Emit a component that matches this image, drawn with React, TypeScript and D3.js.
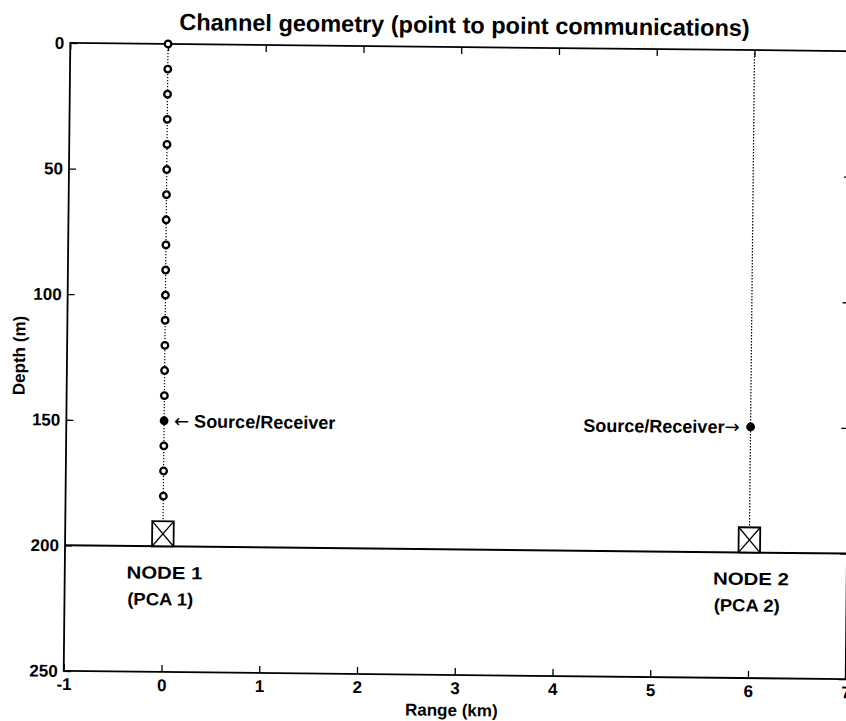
import React, { useEffect, useRef } from "react";
import * as d3 from "d3";

// range ticks (km) and depth ticks (m)
const rangeTicks = [-1, 0, 1, 2, 3, 4, 5, 6, 7];
const depthTicks = [0, 50, 100, 150, 200, 250];

// the two nodes
const nodeRanges = [0, 6];
const nodeNames = ["NODE 1", "NODE 2"];
const nodePcas = ["(PCA 1)", "(PCA 2)"];
const sourceDepths = [150, 150];

// receiver array on node 1 (open circles)
const arrayDepths = [0, 10, 20, 30, 40, 50, 60, 70, 80, 90, 100, 110, 120, 130, 140, 160, 170, 180];

const seabedDepth = 200;
const mooringTopDepth = 190;
const mooringHalfWidth = 0.11; // km

const W = 846;
const H = 721;
const FONT = "'Liberation Sans', Arial, Helvetica, sans-serif";
const ARROW_FONT = "'DejaVu Sans', sans-serif";

export default function App() {
  const ref = useRef<SVGSVGElement | null>(null);

  useEffect(() => {
    const svg = d3.select(ref.current);
    svg.selectAll("*").remove();

    const x = d3.scaleLinear().domain([-1, 7]).range([67, 849]);
    const y = d3.scaleLinear().domain([0, 250]).range([47, 675]);

    // scanned page is slightly tilted
    const g = svg.append("g").attr("transform", "rotate(0.6 455 360)");

    const styleAxis = (sel: any, labels: boolean) => {
      sel.select(".domain").remove();
      sel.selectAll(".tick line").attr("stroke", "#000").attr("stroke-width", 1.3);
      if (labels) {
        sel
          .selectAll(".tick text")
          .attr("fill", "#000")
          .style("font-family", FONT)
          .style("font-weight", "bold")
          .style("font-size", "17px");
      } else {
        sel.selectAll(".tick text").remove();
      }
    };

    const fmt = (d: any) => String(d);

    g.append("g")
      .attr("transform", `translate(0,${y(250)})`)
      .call(d3.axisBottom(x).tickValues(rangeTicks).tickSize(-7).tickPadding(7).tickFormat(fmt))
      .call((s: any) => styleAxis(s, true));

    g.append("g")
      .attr("transform", `translate(0,${y(0)})`)
      .call(d3.axisTop(x).tickValues(rangeTicks).tickSize(-7))
      .call((s: any) => styleAxis(s, false));

    g.append("g")
      .attr("transform", `translate(${x(-1)},0)`)
      .call(d3.axisLeft(y).tickValues(depthTicks).tickSize(-7).tickPadding(6).tickFormat(fmt))
      .call((s: any) => styleAxis(s, true));

    g.append("g")
      .attr("transform", `translate(${x(7)},0)`)
      .call(d3.axisRight(y).tickValues(depthTicks).tickSize(-7))
      .call((s: any) => styleAxis(s, false));

    // axes box
    g.append("rect")
      .attr("x", x(-1))
      .attr("y", y(0))
      .attr("width", x(7) - x(-1))
      .attr("height", y(250) - y(0))
      .attr("fill", "none")
      .attr("stroke", "#000")
      .attr("stroke-width", 1.8);

    // seabed
    g.append("line")
      .attr("x1", x(-1))
      .attr("x2", x(7))
      .attr("y1", y(seabedDepth))
      .attr("y2", y(seabedDepth))
      .attr("stroke", "#000")
      .attr("stroke-width", 2);

    // mooring lines (dotted)
    g.selectAll("line.mooring")
      .data(nodeRanges)
      .join("line")
      .attr("class", "mooring")
      .attr("x1", (d) => x(d))
      .attr("x2", (d) => x(d))
      .attr("y1", y(0))
      .attr("y2", y(mooringTopDepth))
      .attr("stroke", "#000")
      .attr("stroke-width", 1.2)
      .attr("stroke-dasharray", "1.3 1.7");

    // receiver array circles on node 1
    g.selectAll("circle.rx")
      .data(arrayDepths)
      .join("circle")
      .attr("class", "rx")
      .attr("cx", x(nodeRanges[0]))
      .attr("cy", (d) => y(d))
      .attr("r", 3.3)
      .attr("fill", "#fff")
      .attr("stroke", "#000")
      .attr("stroke-width", 2.3);

    // source / receiver dots
    g.selectAll("circle.src")
      .data(nodeRanges)
      .join("circle")
      .attr("class", "src")
      .attr("cx", (d) => x(d))
      .attr("cy", (d, i) => y(sourceDepths[i]))
      .attr("r", 4.4)
      .attr("fill", "#000");

    // node boxes with a cross
    const boxes = g.selectAll("g.node").data(nodeRanges).join("g").attr("class", "node");
    boxes
      .append("rect")
      .attr("x", (d) => x(d - mooringHalfWidth))
      .attr("y", y(mooringTopDepth))
      .attr("width", (d) => x(d + mooringHalfWidth) - x(d - mooringHalfWidth))
      .attr("height", y(seabedDepth) - y(mooringTopDepth))
      .attr("fill", "#fff")
      .attr("stroke", "#000")
      .attr("stroke-width", 1.8);
    boxes
      .append("path")
      .attr("d", (d) => {
        const x0 = x(d - mooringHalfWidth), x1 = x(d + mooringHalfWidth);
        const y0 = y(mooringTopDepth), y1 = y(seabedDepth);
        return `M${x0},${y0}L${x1},${y1}M${x1},${y0}L${x0},${y1}`;
      })
      .attr("stroke", "#000")
      .attr("stroke-width", 1.3);

    const txt = (sel: any, size: number) =>
      sel
        .attr("fill", "#000")
        .style("font-family", FONT)
        .style("font-weight", "bold")
        .style("font-size", `${size}px`);

    // node labels
    nodeRanges.forEach((r, i) => {
      g.append("text")
        .attr("x", x(r) - 36)
        .attr("y", y(seabedDepth) + 32.5)
        .attr("textLength", 76)
        .attr("lengthAdjust", "spacingAndGlyphs")
        .text(nodeNames[i])
        .call((s: any) => txt(s, 17.5));
      g.append("text")
        .attr("x", x(r) - 35)
        .attr("y", y(seabedDepth) + 59)
        .attr("textLength", 66)
        .attr("lengthAdjust", "spacingAndGlyphs")
        .text(nodePcas[i])
        .call((s: any) => txt(s, 17.5));
    });

    // source/receiver annotations
    const left = g
      .append("text")
      .attr("x", x(nodeRanges[0]) + 10)
      .attr("y", y(sourceDepths[0]) + 6.5)
      .call((s: any) => txt(s, 18));
    left.append("tspan").style("font-family", ARROW_FONT).style("font-weight", "normal").text("\u2190");
    left.append("tspan").text(" Source/Receiver");

    const right = g
      .append("text")
      .attr("x", x(nodeRanges[1]) - 11)
      .attr("y", y(sourceDepths[1]) + 6.5)
      .attr("text-anchor", "end")
      .call((s: any) => txt(s, 18));
    right.append("tspan").text("Source/Receiver");
    right.append("tspan").style("font-family", ARROW_FONT).style("font-weight", "normal").text("\u2192");

    // title and axis labels
    g.append("text")
      .attr("x", 461)
      .attr("y", 33)
      .attr("text-anchor", "middle")
      .text("Channel geometry (point to point communications)")
      .call((s: any) => txt(s, 23.5));

    g.append("text")
      .attr("x", (x(-1) + x(7)) / 2 - 3)
      .attr("y", 716)
      .attr("text-anchor", "middle")
      .text("Range (km)")
      .call((s: any) => txt(s, 17));

    g.append("text")
      .attr("transform", "translate(25,360) rotate(-90)")
      .attr("text-anchor", "middle")
      .text("Depth (m)")
      .call((s: any) => txt(s, 17));
  }, []);

  return (
    <div style={{ position: "absolute", left: 0, top: 0, width: W, height: H, background: "#fff" }}>
      <svg ref={ref} width={W} height={H} style={{ display: "block" }}></svg>
    </div>
  );
}
